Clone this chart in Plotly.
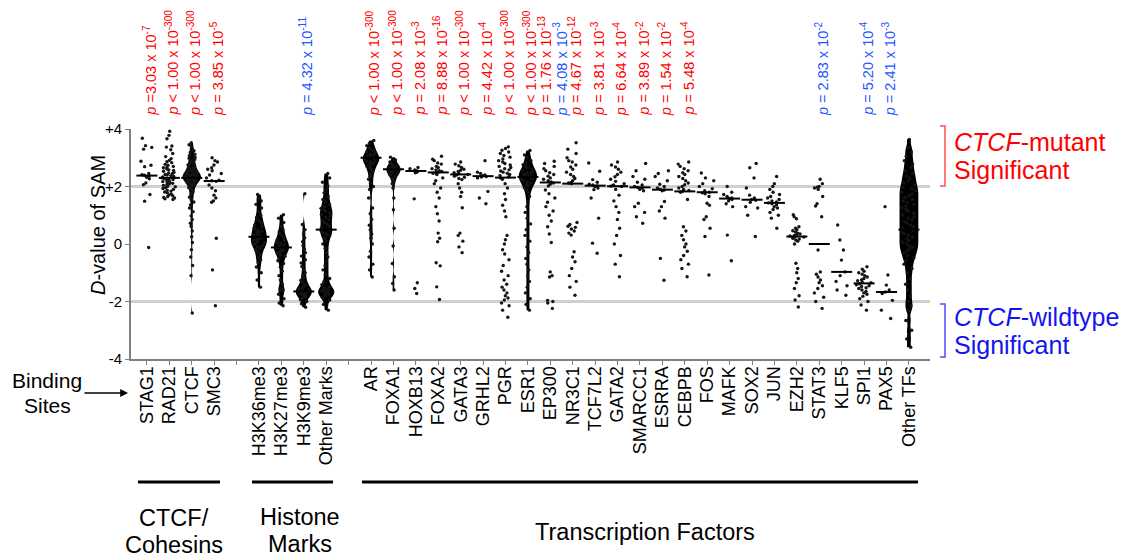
import plotly.graph_objects as go

# ---------------- data ----------------
slots = ["STAG1", "RAD21", "CTCF", "SMC3", "",
         "H3K36me3", "H3K27me3", "H3K9me3", "Other Marks", "",
         "AR", "FOXA1", "HOXB13", "FOXA2", "GATA3", "GRHL2", "PGR", "ESR1",
         "EP300", "NR3C1", "TCF7L2", "GATA2", "SMARCC1", "ESRRA", "CEBPB",
         "FOS", "MAFK", "SOX2", "JUN", "EZH2", "STAT3", "KLF5", "SPI1",
         "PAX5", "Other TFs"]

STAG1 = [3.68, 3.42, 3.3, 3.36, 2.88, 2.74, 2.69, 2.45, 2.41, 2.39, 2.36, 2.32,
         2.27, 2.12, 2.06, 1.72, 1.49, -0.12]
RAD21 = [3.92, 3.78, 3.66, 3.41, 3.37, 3.28, 3.15, 3.04, 2.97, 2.91, 2.86, 2.83,
         2.77, 2.74, 2.7, 2.66, 2.65, 2.61, 2.58, 2.56, 2.53, 2.49, 2.47, 2.45,
         2.42, 2.4, 2.38, 2.35, 2.33, 2.31, 2.3, 2.27, 2.25, 2.24, 2.21, 2.19,
         2.17, 2.16, 2.13, 2.11, 2.09, 2.07, 2.04, 2.01, 1.99, 1.96, 1.93, 1.9,
         1.87, 1.84, 1.81, 1.78, 1.74, 1.71, 1.68, 1.65, 1.62, 1.6, 1.57, 1.55]
CTCF = [3.52, 3.45, 3.38, 3.3, 3.24, 3.18, 3.12, 3.07, 3.02, 2.98, 2.94, 2.9,
        2.86, 2.82, 2.78, 2.75, 2.72, 2.69, 2.66, 2.63, 2.6, 2.58, 2.56, 2.54,
        2.52, 2.5, 2.48, 2.46, 2.44, 2.42, 2.41, 2.4, 2.38, 2.37, 2.36, 2.35,
        2.34, 2.33, 2.32, 2.31, 2.3, 2.29, 2.28, 2.27, 2.26, 2.25, 2.24, 2.22,
        2.2, 2.18, 2.16, 2.14, 2.12, 2.1, 2.07, 2.04, 2.0, 1.96, 1.92, 1.87,
        1.82, 1.76, 1.7, 1.63, 1.55, 1.46, 1.36, 1.25, 1.12, 0.98, 0.85, 0.72,
        0.62, 0.45, 0.25, 0.05, -0.2, -0.45, -0.75, -1.1, -2.4]
SMC3 = [3.0, 2.9, 2.85, 2.75, 2.65, 2.6, 2.55, 2.45, 2.4, 2.3, 2.22, 2.2, 2.18,
        2.05, 1.95, 1.85, 1.7, 1.6, 1.5, 1.45, 0.2, -0.9, -2.15]
H3K36me3 = [1.72, 1.6, 1.5, 1.38, 1.25, 1.12, 1.0, 0.92, 0.85, 0.78, 0.72, 0.66,
            0.6, 0.56, 0.52, 0.48, 0.44, 0.4, 0.36, 0.32, 0.28, 0.25, 0.22, 0.18,
            0.15, 0.12, 0.08, 0.05, 0.02, -0.02, -0.06, -0.1, -0.15, -0.2, -0.28,
            -0.36, -0.45, -0.55, -0.65, -0.8, -1.0, -1.25, -1.5]
H3K27me3 = [1.02, 0.9, 0.75, 0.6, 0.5, 0.42, 0.35, 0.28, 0.22, 0.16, 0.12, 0.08,
            0.04, 0.0, -0.03, -0.06, -0.09, -0.12, -0.15, -0.18, -0.21, -0.25,
            -0.29, -0.33, -0.38, -0.43, -0.5, -0.58, -0.68, -0.8, -0.95, -1.1,
            -1.25, -1.4, -1.55, -1.6, -1.62, -1.75, -1.9, -2.05, -2.15]
H3K9me3 = [1.75, 0.68, 0.5, 0.36, 0.22, 0.08, -0.05, -0.18, -0.3, -0.42, -0.55,
           -0.66, -0.78, -0.9, -1.0, -1.1, -1.18, -1.26, -1.33, -1.39, -1.44,
           -1.48, -1.52, -1.55, -1.58, -1.6, -1.62, -1.64, -1.66, -1.68, -1.7,
           -1.72, -1.74, -1.77, -1.8, -1.84, -1.88, -1.93, -2.0, -2.08, -2.2]
OTHER_MARKS = [2.45, 2.3, 2.15, 2.02, 1.9, 1.78, 1.65, 1.55, 1.45, 1.38, 1.3, 1.24,
               1.18, 1.13, 1.08, 1.03, 0.98, 0.92, 0.86, 0.8, 0.74, 0.68, 0.62,
               0.56, 0.5, 0.45, 0.4, 0.35, 0.3, 0.22, 0.12, 0.0, -0.15, -0.3,
               -0.45, -0.6, -0.75, -0.9, -1.05, -1.2, -1.32, -1.42, -1.5, -1.55,
               -1.6, -1.63, -1.66, -1.69, -1.72, -1.76, -1.8, -1.86, -1.95, -2.1,
               -2.3]
AR = [3.6, 3.5, 3.42, 3.35, 3.3, 3.25, 3.2, 3.16, 3.12, 3.09, 3.06, 3.03, 3.0,
      2.98, 2.96, 2.94, 2.91, 2.88, 2.85, 2.82, 2.78, 2.74, 2.7, 2.65, 2.6, 2.52,
      2.45, 2.35, 2.25, 2.12, 2.0, 1.9, 1.6, 1.25, 1.05, 0.85, 0.65, 0.5, 0.35,
      0.2, 0.0, -0.25, -0.45, -0.7, -0.9, -1.15]
FOXA1 = [3.02, 2.92, 2.85, 2.8, 2.76, 2.72, 2.69, 2.66, 2.64, 2.62, 2.6, 2.58,
         2.56, 2.54, 2.52, 2.5, 2.47, 2.44, 2.4, 2.35, 2.28, 2.2, 2.1, 1.95, 1.6,
         1.19, 0.55, -0.07, -0.68, -1.14, -1.37, -1.6]
HOXB13 = [2.66, 2.62, 2.58, 2.55, 2.53, 2.5, 2.48, 1.57, -1.35, -1.55, -1.72]
FOXA2 = [3.05, 2.95, 2.9, 2.82, 2.78, 2.7, 2.66, 2.62, 2.58, 2.55, 2.52, 2.5,
         2.48, 2.46, 2.42, 2.3, 2.2, 2.1, 1.95, 1.8, 1.6, 1.3, 1.05, 0.8, 0.38,
         0.2, 0.08, -0.65, -0.76, -1.49, -1.93]
GATA3 = [2.85, 2.78, 2.72, 2.66, 2.6, 2.56, 2.52, 2.48, 2.45, 2.42, 2.4, 2.36,
         2.32, 2.28, 2.24, 2.1, 1.95, 1.8, 1.65, 1.26, 0.38, 0.3, 0.1, -0.1, -0.3]
GRHL2 = [2.9, 2.5, 2.45, 2.4, 2.38, 2.35, 2.33, 2.3, 1.83, 1.6, 1.4]
PGR = [3.38, 3.32, 3.26, 3.2, 3.15, 3.08, 3.02, 2.96, 2.9, 2.85, 2.8, 2.75, 2.7,
       2.66, 2.62, 2.58, 2.54, 2.5, 2.46, 2.42, 2.38, 2.34, 2.3, 2.25, 2.1, 1.95,
       1.75, 1.55, 1.35, 1.15, 0.95, 0.3, 0.15, 0.0, -0.2, -0.35, -0.55, -0.75,
       -0.95, -1.1, -1.25, -1.4, -1.5, -1.6, -1.7, -1.8, -1.88, -1.95, -2.05,
       -2.15, -2.3, -2.55]
ESR1 = [3.25, 3.1, 3.0, 2.9, 2.82, 2.76, 2.7, 2.65, 2.6, 2.56, 2.52, 2.48, 2.45,
        2.42, 2.39, 2.36, 2.33, 2.3, 2.27, 2.24, 2.2, 2.16, 2.12, 2.07, 2.02,
        1.96, 1.88, 1.78, 1.65, 1.5, 1.3, 1.1, 0.9, 0.7, 0.5, 0.3, 0.1, -0.1,
        -0.3, -0.5, -0.7, -0.9, -1.1, -1.3, -1.5, -1.7, -1.9, -2.1, -2.3]
EP300 = [2.88, 2.8, 2.7, 2.62, 2.55, 2.48, 2.42, 2.36, 2.3, 2.25, 2.2, 2.16, 2.12,
         2.08, 2.02, 1.88, 1.75, 1.6, 1.45, 1.3, 1.15, 1.0, 0.8, 0.6, 0.35, 0.05,
         -0.97, -1.1, -1.15, -1.96, -2.0, -2.05, -2.24]
NR3C1 = [3.52, 3.3, 3.15, 3.0, 2.9, 2.85, 2.75, 2.68, 2.6, 2.5, 2.42, 2.35, 2.28,
         2.2, 2.14, 2.12, 2.1, 0.75, 0.68, 0.62, 0.58, 0.52, 0.45, 0.38, 0.31,
         -0.27, -0.45, -0.62, -0.85, -1.1, -1.3, -1.5, -1.78]
TCF7L2 = [2.82, 2.53, 2.24, 2.15, 2.08, 2.05, 2.02, 2.0, 1.95, 1.89, 1.6, 0.9,
          0.03, -0.32]
GATA2 = [2.85, 2.75, 2.68, 2.6, 2.5, 2.42, 2.34, 2.25, 2.18, 2.1, 2.05, 2.02, 2.0,
         1.9, 1.7, 1.5, 1.3, 1.1, 0.85, 0.55, 0.3, 0.0, -0.4, -0.7, -1.14]
SMARCC1 = [2.8, 2.55, 2.35, 2.25, 2.15, 2.05, 2.0, 1.97, 1.95, 1.9, 1.85, 1.42,
           1.3, 1.1, 0.95, 0.72]
ESRRA = [2.55, 2.45, 2.35, 2.2, 2.08, 2.0, 1.95, 1.9, 1.88, 1.85, 1.48, 1.3, 1.15,
         0.9, -0.5, -1.26]
CEBPB = [2.85, 2.78, 2.7, 2.62, 2.55, 2.48, 2.42, 2.35, 2.28, 2.2, 2.12, 2.06, 2.0,
         1.95, 1.9, 1.86, 1.83, 1.8, 1.55, 0.6, 0.45, 0.3, 0.15, 0.0, -0.1, -0.25,
         -0.4, -0.55, -0.7, -0.85, -1.14]
FOS = [2.47, 2.3, 2.2, 2.1, 2.0, 1.92, 1.85, 1.8, 1.78, 1.75, 1.65, 1.42, 1.35,
       0.95, 0.85, 0.55, 0.26, -1.08]
MAFK = [2.0, 1.8, 1.72, 1.65, 1.6, 1.58, 1.55, 1.5, 1.4, 1.3, 0.31, -0.58]
SOX2 = [2.8, 2.65, 2.3, 1.95, 1.7, 1.6, 1.55, 1.52, 1.45, 1.3, 1.25, 1.0, 0.26]
JUN = [2.35, 2.1, 2.0, 1.9, 1.8, 1.72, 1.65, 1.6, 1.55, 1.5, 1.46, 1.43, 1.4,
       1.36, 1.3, 1.25, 1.2, 1.1, 1.0, 0.9, 0.55]
EZH2 = [1.02, 0.95, 0.88, 0.6, 0.55, 0.5, 0.46, 0.42, 0.38, 0.35, 0.32, 0.3, 0.28,
        0.26, 0.24, 0.22, 0.2, 0.17, 0.14, 0.1, 0.0, -0.67, -0.85, -1.0, -1.2,
        -1.35, -1.55, -1.8, -1.95, -2.19]
STAT3 = [2.25, 2.1, 2.0, 1.98, 1.95, 1.9, 1.65, 1.4, 1.32, 0.95, -0.21, -0.97,
         -1.05, -1.15, -1.25, -1.35, -1.45, -1.55, -1.7, -1.85, -2.0, -2.24]
KLF5 = [0.66, 0.14, -0.21, -0.56, -0.97, -1.1, -1.3, -1.45, -1.6, -1.78]
SPI1 = [-0.79, -0.88, -0.95, -1.0, -1.05, -1.1, -1.15, -1.2, -1.24, -1.28, -1.32,
        -1.35, -1.38, -1.42, -1.45, -1.48, -1.52, -1.55, -1.6, -1.65, -1.7, -1.75,
        -1.82, -1.9, -2.0, -2.12, -2.3]
PAX5 = [1.3, -1.08, -1.43, -1.6, -1.67, -1.72, -1.96, -2.3, -2.59]
OTHER_TFS = [3.64, 3.35, 3.2, 3.05, 2.9, 2.78, 2.66, 2.55, 2.45, 2.36, 2.28, 2.2,
             2.12, 2.05, 1.98, 1.92, 1.86, 1.8, 1.74, 1.68, 1.62, 1.56, 1.5, 1.44,
             1.38, 1.32, 1.26, 1.2, 1.14, 1.08, 1.02, 0.96, 0.9, 0.84, 0.78, 0.72,
             0.66, 0.6, 0.54, 0.48, 0.42, 0.36, 0.3, 0.24, 0.18, 0.12, 0.06, 0.0,
             -0.06, -0.12, -0.18, -0.25, -0.32, -0.4, -0.48, -0.58, -0.7, -0.85,
             -1.0, -1.2, -1.4, -1.6, -1.8, -2.0, -2.15, -2.31, -2.66, -3.0, -3.3,
             -3.59]

values = {
    "STAG1": STAG1, "RAD21": RAD21, "CTCF": CTCF, "SMC3": SMC3,
    "H3K36me3": H3K36me3, "H3K27me3": H3K27me3, "H3K9me3": H3K9me3,
    "Other Marks": OTHER_MARKS, "AR": AR, "FOXA1": FOXA1, "HOXB13": HOXB13,
    "FOXA2": FOXA2, "GATA3": GATA3, "GRHL2": GRHL2, "PGR": PGR, "ESR1": ESR1,
    "EP300": EP300, "NR3C1": NR3C1, "TCF7L2": TCF7L2, "GATA2": GATA2,
    "SMARCC1": SMARCC1, "ESRRA": ESRRA, "CEBPB": CEBPB, "FOS": FOS,
    "MAFK": MAFK, "SOX2": SOX2, "JUN": JUN, "EZH2": EZH2, "STAT3": STAT3,
    "KLF5": KLF5, "SPI1": SPI1, "PAX5": PAX5, "Other TFs": OTHER_TFS,
}

medians = {
    "STAG1": 2.38, "RAD21": 2.3, "CTCF": 2.3, "SMC3": 2.19, "H3K36me3": 0.25,
    "H3K27me3": -0.12, "H3K9me3": -1.65, "Other Marks": 0.5, "AR": 3.0,
    "FOXA1": 2.6, "HOXB13": 2.54, "FOXA2": 2.49, "GATA3": 2.42, "GRHL2": 2.36,
    "PGR": 2.31, "ESR1": 2.33, "EP300": 2.14, "NR3C1": 2.1, "TCF7L2": 2.03,
    "GATA2": 2.01, "SMARCC1": 1.97, "ESRRA": 1.89, "CEBPB": 1.83, "FOS": 1.8,
    "MAFK": 1.58, "SOX2": 1.54, "JUN": 1.43, "EZH2": 0.26, "STAT3": 0.0,
    "KLF5": -0.97, "SPI1": -1.37, "PAX5": -1.67, "Other TFs": 0.5,
}

p_cat = ["STAG1", "RAD21", "CTCF", "SMC3", "H3K9me3", "AR", "FOXA1", "HOXB13",
         "FOXA2", "GATA3", "GRHL2", "PGR", "ESR1", "EP300", "EP300", "NR3C1",
         "TCF7L2", "GATA2", "SMARCC1", "ESRRA", "CEBPB", "STAT3", "SPI1", "PAX5"]
p_rel = ["=", "<", "<", "=", "=", "<", "<", "=", "=", "<", "=", "<", "<", "=",
         "=", "=", "=", "=", "=", "=", "=", "=", "=", "="]
p_mant = ["3.03", "1.00", "1.00", "3.85", "4.32", "1.00", "1.00", "2.08", "8.88",
          "1.00", "4.42", "1.00", "1.00", "1.76", "4.08", "4.67", "3.81", "6.64",
          "3.89", "1.54", "5.48", "2.83", "5.20", "2.41"]
p_exp = [-7, -300, -300, -5, -11, -300, -300, -3, -16, -300, -4, -300, -300, -13,
         -3, -12, -3, -4, -2, -2, -4, -2, -4, -3]
p_dir = ["mut", "mut", "mut", "mut", "wt", "mut", "mut", "mut", "mut", "mut",
         "mut", "mut", "mut", "mut", "wt", "mut", "mut", "mut", "mut", "mut",
         "mut", "wt", "wt", "wt"]

groups = ["CTCF/<br>Cohesins", "Histone<br>Marks", "Transcription Factors"]

# ---------------- styling / layout helpers ----------------
# pixel values below are window coordinates; the page body has an 8 px margin
OFF = 8
WIN_W, WIN_H = 1134, 560
FIG_W, FIG_H = WIN_W - OFF, WIN_H - OFF
L, R, T, B = 131, 930, 129, 359
FONT = "Arial, Liberation Sans, sans-serif"
RED = "#ff0000"
BLUE_P = "#2255ff"
BLUE = "#1414f0"

def X(p):
    return (p - L) / (R - L)

def Y(p):
    return (B - p) / (B - T)

dense_width = {"CTCF": 0.82, "H3K36me3": 0.72, "H3K27me3": 0.68, "H3K9me3": 0.72,
               "Other Marks": 0.72, "AR": 0.74, "FOXA1": 0.64, "ESR1": 0.82,
               "Other TFs": 0.84}

fig = go.Figure()

for i, name in enumerate(slots):
    if not name:
        continue
    vals = values[name]
    dense = name in dense_width
    fig.add_trace(go.Violin(
        x=[i] * len(vals), y=vals, name=name,
        points="all", pointpos=0, jitter=0.8,
        marker=dict(size=3.4, color="#151515"),
        fillcolor="black" if dense else "rgba(0,0,0,0)",
        line=dict(width=0, color="rgba(0,0,0,0)"),
        width=dense_width.get(name, 0.9),
        spanmode="hard", bandwidth=0.13 if dense else 0.2,
        scalemode="width", hoverinfo="skip", showlegend=False,
    ))

med_x = [i for i, n in enumerate(slots) if n]
med_y = [medians[n] for n in slots if n]
fig.add_trace(go.Scatter(
    x=med_x, y=med_y, mode="markers", hoverinfo="skip", showlegend=False,
    marker=dict(symbol="line-ew", size=15, line=dict(width=2, color="black")),
))

shapes = []
for yv in (2, -2):
    shapes.append(dict(type="line", xref="paper", yref="y", x0=0, x1=1, y0=yv, y1=yv,
                       line=dict(color="#d0d0d0", width=3), layer="below"))
for x0, x1 in ((138, 220), (252, 333), (362, 918)):
    shapes.append(dict(type="line", xref="paper", yref="paper", x0=X(x0), x1=X(x1),
                       y0=Y(482), y1=Y(482), line=dict(color="black", width=3)))
for (y0, y1, col) in ((126, 186, "#ff4d4d"), (304, 357, "#4d4dff")):
    shapes.append(dict(type="path", xref="paper", yref="paper",
                       path=f"M {X(940)},{Y(y0)} L {X(945)},{Y(y0)} L {X(945)},{Y(y1)} L {X(940)},{Y(y1)}",
                       line=dict(color=col, width=1.5)))

annotations = []
nudge = {12: 0.1, 13: -0.24, 14: 0.43, 15: 0.1}
for k, cat in enumerate(p_cat):
    pos = slots.index(cat) + nudge.get(k, 0.1)
    rel = "&lt;" if p_rel[k] == "<" else "="
    sep = "" if k == 0 else " "
    txt = f"<i>p</i> {rel}{sep}{p_mant[k]} x 10<sup>{p_exp[k]}</sup>"
    annotations.append(dict(x=pos, y=Y(118), xref="x", yref="paper", text=txt,
                            textangle=-90, showarrow=False, xanchor="center",
                            yanchor="bottom",
                            font=dict(family=FONT, size=14.5,
                                      color=RED if p_dir[k] == "mut" else BLUE_P)))
annotations.append(dict(x=X(98), y=Y(225), xref="paper", yref="paper",
                        xanchor="center", yanchor="middle",
                        text="<i>D</i>-value of SAM", textangle=-90, showarrow=False,
                        font=dict(family=FONT, size=20, color="black")))
for txt, yy, col in (("<i>CTCF</i>-mutant", 142, RED), ("Significant", 170, RED),
                     ("<i>CTCF</i>-wildtype", 317, BLUE), ("Significant", 345, BLUE)):
    annotations.append(dict(x=X(952), y=Y(yy), xref="paper", yref="paper", text=txt,
                            showarrow=False, xanchor="left", yanchor="middle",
                            font=dict(family=FONT, size=25, color=col)))
for txt, yy in (("Binding", 380), ("Sites", 405)):
    annotations.append(dict(x=X(47), y=Y(yy), xref="paper", yref="paper", text=txt,
                            showarrow=False, xanchor="center", yanchor="middle",
                            font=dict(family=FONT, size=21, color="black")))
annotations.append(dict(x=X(128), y=Y(393), xref="paper", yref="paper", text="",
                        showarrow=True, ax=-45, ay=0, arrowhead=2, arrowsize=1.2,
                        arrowwidth=1.3, arrowcolor="black"))
group_pos = [(174, (518, 545)), (300, (517, 544)), (645, (532,))]
for g, (cx, ys) in zip(groups, group_pos):
    for line, yy in zip(g.split("<br>"), ys):
        annotations.append(dict(x=X(cx), y=Y(yy), xref="paper", yref="paper",
                                text=line, showarrow=False, xanchor="center",
                                yanchor="middle", borderpad=0,
                                font=dict(family=FONT, size=23.5, color="black")))

fig.update_layout(
    width=FIG_W, height=FIG_H,
    margin=dict(l=L - OFF, r=FIG_W - (R - OFF), t=T - OFF, b=FIG_H - (B - OFF),
                pad=0, autoexpand=False),
    paper_bgcolor="white", plot_bgcolor="white",
    violinmode="overlay",
    showlegend=False,
    shapes=shapes, annotations=annotations,
    xaxis=dict(type="linear", range=[-0.71, 34.94], tickmode="array",
               tickvals=list(range(len(slots))), ticktext=slots, tickangle=-90,
               showgrid=False, zeroline=False, showline=True, automargin=False,
               linecolor="#808080", linewidth=2, ticks="outside", ticklen=4,
               tickwidth=1.2, tickcolor="#808080", ticklabelstandoff=-6,
               tickfont=dict(family=FONT, size=18, color="black")),
    yaxis=dict(range=[-4, 4], tickmode="array", tickvals=[-4, -2, 0, 2, 4],
               ticktext=["-4", "-2", "0", "+2", "+4"], showgrid=False,
               zeroline=False, showline=True, automargin=False,
               linecolor="#808080", linewidth=2, ticks="outside", ticklen=4,
               tickwidth=1.2, tickcolor="#808080",
               tickfont=dict(family=FONT, size=15, color="black")),
)

fig.write_html("out.html")
